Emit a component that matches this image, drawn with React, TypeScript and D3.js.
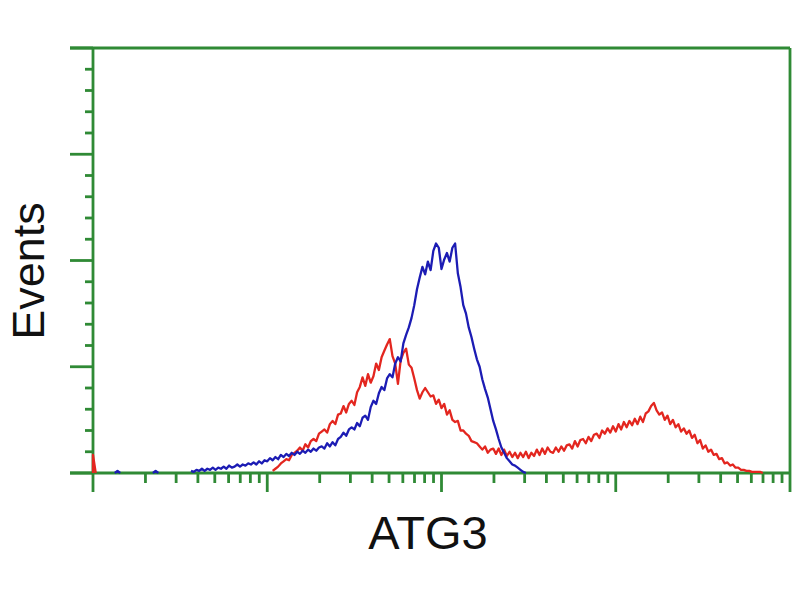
import React from 'react';
import * as d3 from 'd3';

const W = 800;
const H = 600;

// Axis domains / labels
const X_DOMAIN: [number, number] = [1, 10000];
const Y_DOMAIN: [number, number] = [0, 400];
const Y_MAJOR_STEP = 100;
const Y_MINOR_STEP = 20;
const CHANNELS_PER_DECADE = 64;
const X_LABEL = 'ATG3';
const Y_LABEL = 'Events';

// Histogram counts (red = ATG3 stained, blue = control), by channel
const redStart = 66;
const redCounts = [
  2, 4, 6, 9, 11, 13, 12, 17, 19, 21,
  24, 21, 27, 24, 30, 32, 30, 37, 39, 41,
  38, 46, 49, 46, 55, 56, 63, 57, 65, 68,
  64, 76, 81, 90, 82, 93, 85, 91, 103, 97,
  109, 115, 121, 126, 110, 103, 84, 106, 113, 117,
  102, 99, 89, 78, 70, 76, 80, 76, 72, 73,
  65, 69, 61, 65, 55, 59, 50, 48, 49, 40,
  40, 37, 35, 30, 29, 28, 25, 22, 25, 19,
  22, 23, 18, 23, 17, 22, 16, 20, 15, 19,
  14, 19, 15, 20, 14, 19, 16, 22, 17, 23,
  18, 24, 20, 19, 24, 20, 25, 21, 26, 27,
  23, 30, 25, 31, 32, 28, 34, 30, 36, 37,
  33, 40, 37, 42, 38, 44, 39, 46, 41, 48,
  43, 49, 45, 51, 46, 53, 48, 56, 58, 63,
  66, 59, 55, 57, 50, 54, 46, 50, 43, 46,
  39, 42, 37, 40, 33, 36, 28, 31, 23, 26,
  20, 22, 17, 18, 13, 14, 9, 10, 7, 8,
  5, 5, 3, 3, 2, 2, 1, 1, 1, 1, 0,
];

const blueStart = 36;
const blueCounts = [
  2, 1, 3, 2, 4, 2, 4, 3, 5, 3,
  5, 4, 6, 4, 7, 5, 6, 8, 6, 8,
  7, 9, 8, 10, 8, 11, 9, 12, 11, 14,
  12, 15, 13, 17, 15, 18, 16, 19, 17, 20,
  18, 21, 19, 22, 20, 23, 21, 24, 25, 23,
  28, 25, 29, 26, 32, 34, 38, 35, 41, 43,
  41, 47, 44, 52, 54, 50, 62, 68, 65, 75,
  81, 78, 89, 93, 90, 103, 109, 105, 122, 130,
  137, 146, 158, 173, 184, 194, 187, 199, 191, 209,
  216, 212, 192, 201, 207, 199, 212, 216, 188, 175,
  158, 150, 137, 128, 117, 107, 100, 88, 79, 71,
  60, 49, 41, 32, 24, 19, 14, 11, 8, 7,
  5, 3, 1, 0,
];

// Off-scale-low events piled in the first channel
const redFirstChannel = 17;
// Isolated events along the baseline (blue)
const blueSparseChannels = [9, 23];
const blueSparseCounts = [2, 2];

const RED = '#e3261f';
const BLUE = '#1c1cb4';
const GREEN = '#2f8a35';

export default function App() {
  const left = 93, right = 790, top = 48, bottom = 473;
  const x = d3.scaleLog().domain(X_DOMAIN).range([left, right]);
  const y = d3.scaleLinear().domain(Y_DOMAIN).range([bottom, top]);
  const chX = (ch: number) => x(Math.pow(10, ch / CHANNELS_PER_DECADE));

  const line = d3
    .line<[number, number]>()
    .x((d) => chX(d[0]))
    .y((d) => y(d[1]));

  const redPts: [number, number][] = redCounts.map((c, i) => [redStart + i, c]);
  const bluePts: [number, number][] = blueCounts.map((c, i) => [blueStart + i, c]);
  const redSpike: [number, number][] = [[0, 0], [0, redFirstChannel], [1, 0]];
  const sparse = blueSparseChannels.map((ch, i) => [
    [ch - 1, 0],
    [ch, blueSparseCounts[i]],
    [ch + 1, 0],
  ] as [number, number][]);

  const yMajors = d3.range(Y_DOMAIN[0], Y_DOMAIN[1] + 1, Y_MAJOR_STEP);
  const yMinors = d3
    .range(Y_DOMAIN[0], Y_DOMAIN[1] + 1, Y_MINOR_STEP)
    .filter((v) => v % Y_MAJOR_STEP !== 0);
  const xTicks = x.ticks();
  const isMajor = (v: number) => Math.abs(Math.log10(v) - Math.round(Math.log10(v))) < 1e-9;

  return (
    <svg
      width={W}
      height={H}
      style={{ position: 'fixed', left: 0, top: 0, background: '#fff' }}
    >
      <rect x={0} y={0} width={W} height={H} fill="#fff" />
      <g stroke={GREEN} strokeWidth={2.8} fill="none">
        <line x1={left} x2={left} y1={top} y2={bottom} />
        <line x1={right} x2={right} y1={top} y2={bottom} />
        <line x1={left - 23} x2={right} y1={top} y2={top} />
        <line x1={left - 23} x2={right} y1={bottom} y2={bottom} />
        {yMajors.map((v) => (
          <line key={'ym' + v} x1={left - 23} x2={left} y1={y(v)} y2={y(v)} />
        ))}
        {yMinors.map((v) => (
          <line key={'yn' + v} x1={left - 8} x2={left} y1={y(v)} y2={y(v)} />
        ))}
        {xTicks.map((v) => (
          <line
            key={'x' + v}
            x1={x(v)}
            x2={x(v)}
            y1={bottom}
            y2={bottom + (isMajor(v) ? 19 : 10)}
          />
        ))}
      </g>
      <g fill="none" strokeWidth={2.3} strokeLinejoin="round">
        <path d={line(redSpike) || ''} stroke={RED} />
        {sparse.map((pts, i) => (
          <path key={'sp' + i} d={line(pts) || ''} stroke={BLUE} />
        ))}
        <path d={line(redPts) || ''} stroke={RED} />
        <path d={line(bluePts) || ''} stroke={BLUE} />
      </g>
      <text
        transform="translate(44,271) rotate(-90)"
        textAnchor="middle"
        fontFamily="Liberation Sans, Arial, sans-serif"
        fontSize={45}
        fill="#111"
      >
        {Y_LABEL}
      </text>
      <text
        x={428}
        y={549}
        textAnchor="middle"
        fontFamily="Liberation Sans, Arial, sans-serif"
        fontSize={47}
        fill="#111"
      >
        {X_LABEL}
      </text>
    </svg>
  );
}
